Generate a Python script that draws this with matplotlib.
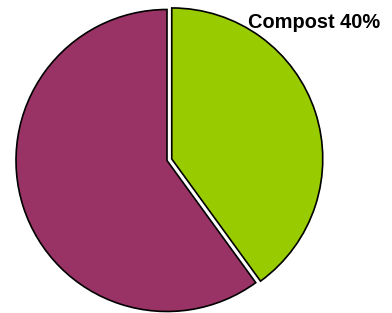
import matplotlib.pyplot as plt

# data
categories = ['Compost', 'Other']
values = [40, 60]
colors = ['#99CC00', '#993366']
explode = [5, 0]  # pie offset is in data units here (px)

fig = plt.figure(figsize=(3.92, 3.13), dpi=100)
ax = fig.add_axes([0, 0, 1, 1])

ax.pie(values, colors=colors, explode=explode, startangle=90, counterclock=False,
       center=(167, 152.5), radius=151,
       wedgeprops=dict(edgecolor='black', linewidth=1.2))

ax.set_xlim(0, 392)
ax.set_ylim(0, 313)
ax.set_aspect('equal')
ax.axis('off')

# only the compost slice is labelled
ax.text(248, 291, f'{categories[0]} {values[0]}%', fontsize=14.4, fontweight='bold',
        family='Liberation Sans', va='center', ha='left')

fig.savefig('out.png', dpi=100)
